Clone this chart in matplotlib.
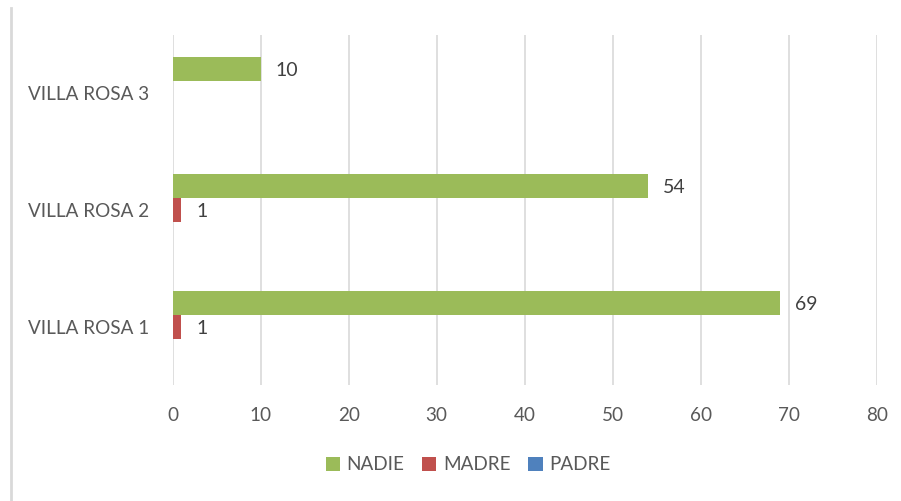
import matplotlib
matplotlib.use("Agg")
import matplotlib.pyplot as plt
from matplotlib.lines import Line2D
import numpy as np

categories = ["VILLA ROSA 1", "VILLA ROSA 2", "VILLA ROSA 3"]
series_names = ["NADIE", "MADRE", "PADRE"]
nadie = [69, 54, 10]
madre = [1, 1, 0]
padre = [0, 0, 0]
x_ticks = [0, 10, 20, 30, 40, 50, 60, 70, 80]

colors = ["#9BBB59", "#C0504D", "#4F81BD"]
FONT = ["Lato", "DejaVu Sans"]
plt.rcParams['font.family'] = FONT

fig = plt.figure(figsize=(9.01, 5.01), dpi=100)
ax = fig.add_axes([172.5/901, 1-385/501, (877-172.5)/901, 350/501])

y = np.arange(len(categories))
h = 0.205
offsets = [h, 0, -h]
for vals, off, col, name in zip([nadie, madre, padre], offsets, colors, series_names):
    bars = ax.barh(y + off, vals, height=h, color=col, label=name, zorder=3)
    for b, v in zip(bars, vals):
        if v > 0:
            ax.annotate(str(v), (b.get_width(), b.get_y() + b.get_height()/2),
                        xytext=(11, -1), textcoords="offset points",
                        va="center", ha="left", fontsize=14, color="#404040")

ax.set_xlim(0, 80)
ax.set_ylim(-0.5, 2.5)
ax.set_xticks(x_ticks)
ax.set_xticklabels([str(t) for t in x_ticks])
ax.set_yticks(y)
ax.set_yticklabels(categories)
ax.tick_params(axis="both", length=0, labelsize=13.6, colors="#595959")
ax.tick_params(axis="y", pad=17)
ax.tick_params(axis="x", pad=16)
ax.grid(axis="x", color="#D9D9D9", linewidth=1.2, zorder=0)
for s in ax.spines.values():
    s.set_visible(False)

leg = fig.legend(loc="center", bbox_to_anchor=(468/901, 1-465/501), ncol=3,
                 frameon=False, fontsize=13.6, handlelength=0.75, handleheight=0.75,
                 handletextpad=0.35, columnspacing=0.95, labelcolor="#595959")

fig.add_artist(Line2D([11/901, 11/901], [0, 1-8/501], transform=fig.transFigure,
                      color="#D9D9D9", linewidth=2))

fig.savefig("out.png", dpi=100)
